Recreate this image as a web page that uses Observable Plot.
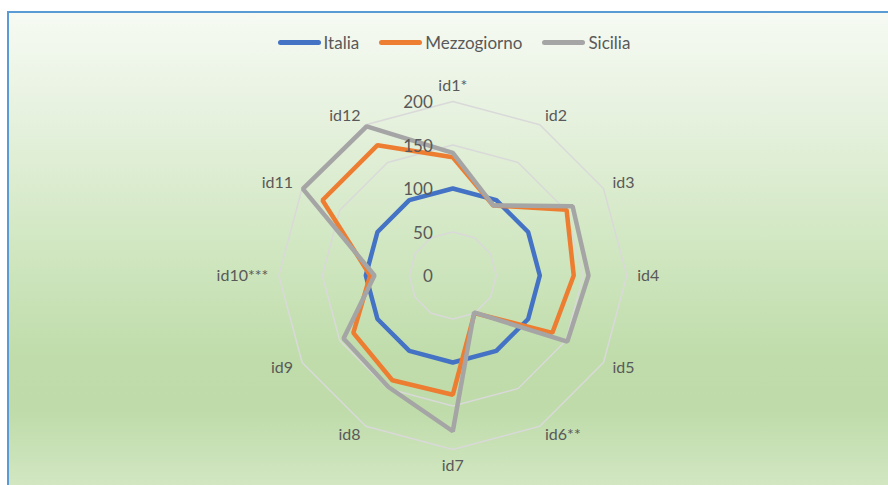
<!DOCTYPE html>
<html>
<head>
<meta charset="utf-8">
<script src="https://cdn.jsdelivr.net/npm/d3@7"></script>
<script src="https://cdn.jsdelivr.net/npm/@observablehq/plot@0.6"></script>
<style>
  html, body { margin: 0; padding: 0; background: #ffffff; }
  #stage { position: relative; width: 888px; height: 485px; overflow: hidden; font-family: Lato, "Open Sans", sans-serif; }
  #panel {
    position: absolute; left: 7px; top: 11px; width: 900px; height: 482px;
    border-left: 2px solid #5b9bd5; border-top: 2px solid #5b9bd5;
    background: linear-gradient(180deg, #f6faf3 0%, #e6f1de 22%, #d1e7c2 48%, #bfdcaa 72%, #bedba9 82%, #d4e8c5 100%);
  }
  #legend {
    position: absolute; top: 32px; left: 0; width: 908px;
    display: flex; justify-content: center; align-items: center; gap: 20px;
    font-size: 17px; color: #595959;
  }
  #legend .item { display: flex; align-items: center; gap: 3px; }
  #legend .sw { width: 43px; height: 4.5px; border-radius: 3px; }
  #chart { position: absolute; left: 0; top: 0; }
</style>
</head>
<body>
<div id="stage">
  <div id="panel"></div>
  <div id="legend"></div>
  <div id="chart"></div>
</div>
<script>
// Indicator labels, clockwise from the top
const categories = ["id1*", "id2", "id3", "id4", "id5", "id6**", "id7", "id8", "id9", "id10***", "id11", "id12"];

// Index values (Italia = 100)
const italia      = [100, 100, 100, 100, 100, 100, 100, 100, 100, 100, 100, 100];
const mezzogiorno = [136,  93, 151, 139, 132,  50, 137, 139, 132,  95, 173, 173];
const sicilia     = [141,  93, 159, 156, 152,  49, 179, 148, 145,  90, 199, 198];

const seriesNames = ["Italia", "Mezzogiorno", "Sicilia"];
const seriesColors = ["#4472c4", "#ed7d31", "#a5a5a5"];

// Radial grid levels and their labels
const ringTicks = [0, 50, 100, 150, 200];

const seriesValues = [italia, mezzogiorno, sicilia];
const n = categories.length;
const angleOf = i => (i * 2 * Math.PI) / n;
const px = (r, a) => r * Math.sin(a);
const py = (r, a) => r * Math.cos(a);

const rows = seriesNames.flatMap((name, s) =>
  seriesValues[s].map((v, i) => ({series: name, key: categories[i], value: v, angle: angleOf(i)}))
);

const rings = ringTicks.filter(t => t > 0).flatMap(t =>
  categories.map((c, i) => ({ring: t, angle: angleOf(i)}))
);

const spokes = categories.map((c, i) => ({label: c, angle: angleOf(i)}));
const labelR = 212;
const side = d => Math.sin(d.angle);

// 0.87 px per unit; center of the web at (452.3, 275)
const k = 0.87, cx = 452.3, cy = 275, W = 888, H = 485;

const chart = Plot.plot({
  width: W,
  height: H,
  margin: 0,
  style: {background: "transparent", fontFamily: "Lato, 'Open Sans', sans-serif"},
  x: {domain: [-cx / k, (W - cx) / k], range: [0, W], axis: null},
  y: {domain: [-(H - cy) / k, cy / k], range: [H, 0], axis: null},
  color: {domain: seriesNames, range: seriesColors},
  marks: [
    Plot.line(rings, {
      x: d => px(d.ring, d.angle), y: d => py(d.ring, d.angle), z: "ring",
      curve: "linear-closed", stroke: "#d9d9d9", strokeWidth: 1.5
    }),
    Plot.line(rows, {
      x: d => px(d.value, d.angle), y: d => py(d.value, d.angle), z: "series",
      stroke: "series", curve: "linear-closed", strokeWidth: 4.5, strokeLinejoin: "miter"
    }),
    Plot.text(ringTicks, {
      x: () => 0, y: d => d, text: d => String(d),
      textAnchor: "end", dx: -20, dy: 1.5, fill: "#595959", fontSize: 17
    }),
    Plot.text(spokes, {
      filter: d => side(d) > 0.01,
      x: d => px(labelR, d.angle), y: d => py(labelR, d.angle), text: "label",
      textAnchor: "start", fill: "#595959", fontSize: 16
    }),
    Plot.text(spokes, {
      filter: d => side(d) < -0.01,
      x: d => px(labelR, d.angle), y: d => py(labelR, d.angle), text: "label",
      textAnchor: "end", fill: "#595959", fontSize: 16
    }),
    Plot.text(spokes, {
      filter: d => Math.abs(side(d)) <= 0.01 && Math.cos(d.angle) > 0,
      x: d => px(labelR, d.angle), y: d => py(labelR, d.angle), text: "label",
      textAnchor: "middle", lineAnchor: "bottom", fill: "#595959", fontSize: 16
    }),
    Plot.text(spokes, {
      filter: d => Math.abs(side(d)) <= 0.01 && Math.cos(d.angle) < 0,
      x: d => px(labelR, d.angle), y: d => py(labelR, d.angle), text: "label",
      textAnchor: "middle", lineAnchor: "top", fill: "#595959", fontSize: 16
    })
  ]
});
document.getElementById("chart").append(chart);

// Legend with line swatches
const legend = d3.select("#legend");
seriesNames.forEach((name, i) => {
  const item = legend.append("div").attr("class", "item");
  item.append("div").attr("class", "sw").style("background", seriesColors[i]);
  item.append("span").text(name);
});
</script>
</body>
</html>
